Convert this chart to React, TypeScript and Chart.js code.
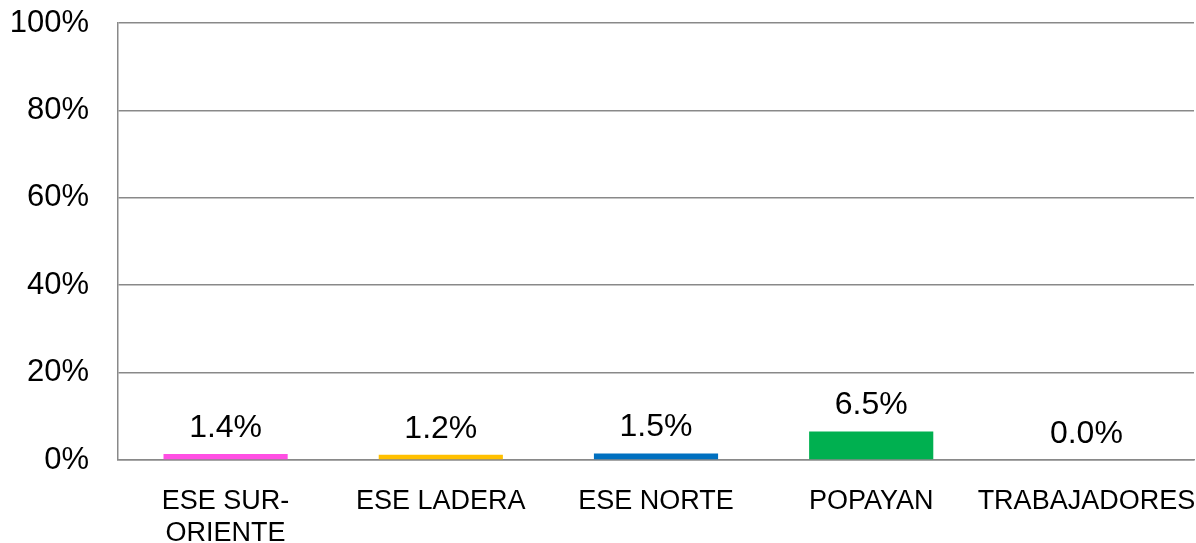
import React, { useEffect, useRef } from "react";
import { Chart, registerables } from "chart.js";

Chart.register(...registerables);

const categories: (string | string[])[] = [
  ["ESE SUR-", "ORIENTE"],
  "ESE LADERA",
  "ESE NORTE",
  "POPAYAN",
  "TRABAJADORES",
];
const values: number[] = [1.4, 1.2, 1.5, 6.5, 0.0];
const barColors: string[] = ["#FF4FE3", "#FFC000", "#0070C0", "#00B050", "#7F7F7F"];
const yTicks: number[] = [0, 20, 40, 60, 80, 100];

const FONT = "'Liberation Sans', Arial, sans-serif";

const dataLabels = {
  id: "dataLabels",
  afterDatasetsDraw(chart: any) {
    const ctx = chart.ctx;
    const meta = chart.getDatasetMeta(0);
    ctx.save();
    ctx.font = `32px ${FONT}`;
    ctx.fillStyle = "#000000";
    ctx.textAlign = "center";
    ctx.textBaseline = "middle";
    meta.data.forEach((el: any, i: number) => {
      const v = values[i];
      ctx.fillText(v.toFixed(1) + "%", el.x, el.y - 26);
    });
    ctx.restore();
  },
};

export default function App() {
  const ref = useRef<HTMLCanvasElement>(null);
  useEffect(() => {
    document.body.style.margin = "0";
    const canvas = ref.current!;
    const chart = new Chart(canvas, {
      type: "bar",
      data: {
        labels: categories,
        datasets: [
          {
            data: values,
            backgroundColor: barColors,
            borderWidth: 0,
            barPercentage: 0.577,
            categoryPercentage: 1,
          },
        ],
      },
      options: {
        responsive: false,
        animation: false,
        layout: { padding: { left: 0, top: 23, right: 2, bottom: 0 } },
        plugins: {
          legend: { display: false },
          tooltip: { enabled: false },
        },
        scales: {
          x: {
            offset: true,
            grid: { display: false, drawTicks: false },
            border: { display: true, color: "#898989", width: 1.5 },
            ticks: {
              color: "#000000",
              font: { family: FONT, size: 27, lineHeight: 1.2 },
              padding: 25,
              maxRotation: 0,
              autoSkip: false,
            },
            afterFit: (s: any) => {
              s.height = 83;
              s.paddingLeft = 0;
              s.paddingRight = 0;
            },
          },
          y: {
            min: 0,
            max: 100,
            afterBuildTicks: (s: any) => {
              s.ticks = yTicks.map((v) => ({ value: v }));
            },
            grid: { color: "#898989", lineWidth: 1.5, drawTicks: false },
            border: { display: true, color: "#898989", width: 1.5 },
            ticks: {
              color: "#000000",
              font: { family: FONT, size: 31 },
              padding: 29,
              callback: (v: any) => v + "%",
            },
            afterFit: (s: any) => {
              s.width = 118;
              s.paddingTop = 0;
              s.paddingBottom = 0;
            },
          },
        },
      },
      plugins: [dataLabels],
    });
    return () => chart.destroy();
  }, []);
  return (
    <div style={{ width: 1196, height: 543, background: "#ffffff" }}>
      <canvas ref={ref} width={1196} height={543} />
    </div>
  );
}
